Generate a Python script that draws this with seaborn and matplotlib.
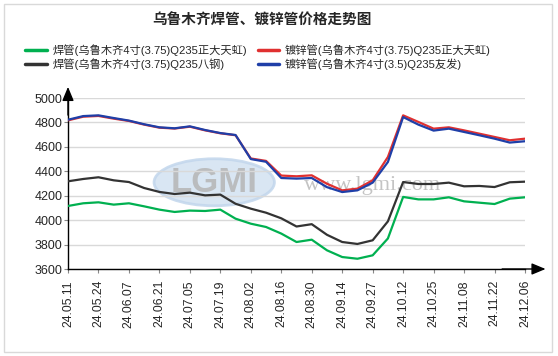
import numpy as np
import pandas as pd
import seaborn as sns
import matplotlib.pyplot as plt
from matplotlib.patches import Ellipse, Rectangle

sns.set_theme(style="white")
plt.rcParams["font.family"] = ["Liberation Sans", "Noto Sans CJK SC", "DejaVu Sans"]

# -----------------------------
# data (half-tick steps, labels on every second point)
# -----------------------------
tick_labels = ["24.05.11", "24.05.24", "24.06.07", "24.06.21", "24.07.05", "24.07.19",
               "24.08.02", "24.08.16", "24.08.30", "24.09.14", "24.09.27", "24.10.12",
               "24.10.25", "24.11.08", "24.11.22", "24.12.06"]

weld_zdth = [4116, 4138, 4146, 4127, 4138, 4113, 4086, 4067, 4078, 4075, 4086, 4012,
             3971, 3944, 3890, 3821, 3840, 3753, 3698, 3684, 3712, 3850, 4190, 4170,
             4170, 4187, 4154, 4143, 4132, 4176, 4187]
weld_bg = [4318, 4337, 4351, 4326, 4312, 4263, 4231, 4214, 4225, 4203, 4209, 4134,
           4094, 4061, 4015, 3948, 3967, 3880, 3821, 3805, 3835, 3990, 4312, 4296,
           4296, 4307, 4277, 4280, 4271, 4310, 4315]
galv_zdth = [4817, 4847, 4853, 4831, 4812, 4782, 4757, 4750, 4765, 4735, 4711, 4695,
             4505, 4485, 4365, 4359, 4367, 4298, 4244, 4258, 4326, 4517, 4858, 4804,
             4749, 4760, 4735, 4708, 4681, 4654, 4667]
galv_yf = [4822, 4852, 4858, 4836, 4815, 4785, 4760, 4752, 4768, 4738, 4713, 4697,
           4500, 4478, 4345, 4340, 4345, 4270, 4230, 4244, 4307, 4476, 4844, 4782,
           4733, 4749, 4722, 4695, 4667, 4635, 4646]

series_names = ["焊管(乌鲁木齐4寸(3.75)Q235正大天虹)",
                "焊管(乌鲁木齐4寸(3.75)Q235八钢)",
                "镀锌管(乌鲁木齐4寸(3.75)Q235正大天虹)",
                "镀锌管(乌鲁木齐4寸(3.5)Q235友发)"]
series_colors = ["#00b050", "#333333", "#e03030", "#1f3fa8"]

n = len(weld_zdth)
df = pd.DataFrame({
    "idx": list(range(n)) * 4,
    "price": weld_zdth + weld_bg + galv_zdth + galv_yf,
    "series": np.repeat(series_names, n),
})

fig = plt.figure(figsize=(5.58, 3.56), dpi=100)
ax = fig.add_axes([68 / 558, 87 / 356, 457 / 558, 171 / 356])

# watermark
ax.add_patch(Ellipse((9.6, 4310), 7.9, 385, facecolor="#d3e2f1", edgecolor="#c2d6ec",
                     lw=2, alpha=0.85, zorder=0))
ax.text(9.6, 4310, "LGMI", ha="center", va="center", fontsize=25, fontweight="bold",
        color="#b5b5b5", alpha=0.85, zorder=0)
ax.text(20.0, 4280, "www.lgmi.com", ha="center", va="center", fontsize=16,
        family="Liberation Serif", color="#c4c4c4", zorder=0)

sns.lineplot(data=df, x="idx", y="price", hue="series", hue_order=series_names,
             palette=series_colors, lw=1.6, ax=ax, legend=False, zorder=3)

ax.set_xlim(0, n - 1)
ax.set_ylim(3600, 5000)
ax.set_yticks(range(3600, 5001, 200))
ax.set_xticks(range(0, n, 2))
ax.set_xticklabels(tick_labels, rotation=90, fontsize=8.8)
ax.tick_params(axis="y", labelsize=9, length=3, width=0.8, pad=1, color="#888888", left=True)
ax.tick_params(axis="x", length=3, width=0.8, pad=5, color="#888888", bottom=True)
ax.grid(axis="y", color="#d9d9d9", lw=1)
ax.set_xlabel("")
ax.set_ylabel("")
for s in ["top", "right"]:
    ax.spines[s].set_visible(False)
for s in ["left", "bottom"]:
    ax.spines[s].set_color("black")
    ax.spines[s].set_linewidth(1)

# axis arrows
head = "-|>,head_length=0.6,head_width=0.25"
ax.annotate("", xy=(0, 1.065), xytext=(0, 0.9), xycoords="axes fraction",
            arrowprops=dict(arrowstyle=head, color="black", lw=1, mutation_scale=14,
                            shrinkA=0, shrinkB=0))
ax.annotate("", xy=(1.045, 0), xytext=(0.95, 0), xycoords="axes fraction",
            arrowprops=dict(arrowstyle=head, color="black", lw=1, mutation_scale=14,
                            shrinkA=0, shrinkB=0))

# legend
handles = [plt.Line2D([], [], color=c, lw=2.5) for c in series_colors]
fig.legend(handles, series_names, ncol=2, loc="center", bbox_to_anchor=(258 / 558, 1 - 57 / 356),
           frameon=False, fontsize=8.1, handlelength=1.9, handletextpad=0.5,
           columnspacing=1.0, labelspacing=0.15)

fig.text(262 / 558, 1 - 20 / 356, "乌鲁木齐焊管、镀锌管价格走势图", ha="center", va="center",
         fontsize=10.5, fontweight="bold", family=["Noto Sans CJK SC"])

fig.patches.append(Rectangle((4 / 558, 4 / 356), 548 / 558, 348 / 356, transform=fig.transFigure,
                             fill=False, edgecolor="#d9d9d9", lw=1))

fig.savefig("out.png", dpi=100)
